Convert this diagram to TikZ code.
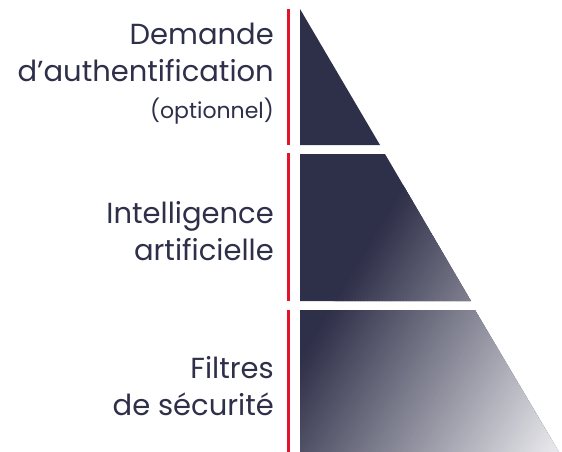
\documentclass[tikz,border=0pt]{standalone}
\usepackage{fontspec}
\setmainfont{Poppins}
\usepackage{tikz}
\definecolor{navy}{HTML}{2E2F48}
\definecolor{pale}{HTML}{E8E8EC}
\definecolor{accent}{HTML}{E4132C}
\def\drawbar{\draw[color=accent, line width=3.5pt]}
\def\labelnode{\node[anchor=base east, align=right, text=navy, font=\fontsize{29}{37}\selectfont, inner sep=0pt]}

\begin{document}
\begin{tikzpicture}[x=1pt,y=-1pt]
\useasboundingbox (0,0) rectangle (562,452);
% pyramid, three slices, one gradient
\begin{scope}
\clip (300,9) -- (380,145) -- (300,145) -- cycle
  (300,154) -- (385,154) -- (471,301) -- (300,301) -- cycle
  (300,310) -- (475,310) -- (559,452) -- (300,452) -- cycle;
\fill[navy] (200,0) rectangle (562,452);
\foreach \t in {514,517,...,850} {
  \pgfmathsetmacro\p{min(100,(\t-514)/3.1)}
  \fill[pale!\p!navy] (\t,0) -- ({\t-271.2},452) -- ({\t-266.7},452) -- ({\t+4.5},0) -- cycle;
}
\end{scope}
% red bars
\coordinate (b1) at (288.7,9);
\coordinate (e1) at (288.7,145);
\coordinate (b2) at (288.7,153);
\coordinate (e2) at (288.7,301);
\coordinate (b3) at (288.7,310);
\coordinate (e3) at (288.7,452);
\drawbar (b1) -- (e1);
\drawbar (b2) -- (e2);
\drawbar (b3) -- (e3);
% labels (base = last line)
\labelnode (demande) at (274,118) {Demande\\d’authentification\\{\fontsize{22}{36}\selectfont(optionnel)}};
\labelnode (ia) at (274,260) {Intelligence\\artificielle};
\labelnode (filtres) at (274,415) {Filtres\\de sécurité};
\end{tikzpicture}
\end{document}
